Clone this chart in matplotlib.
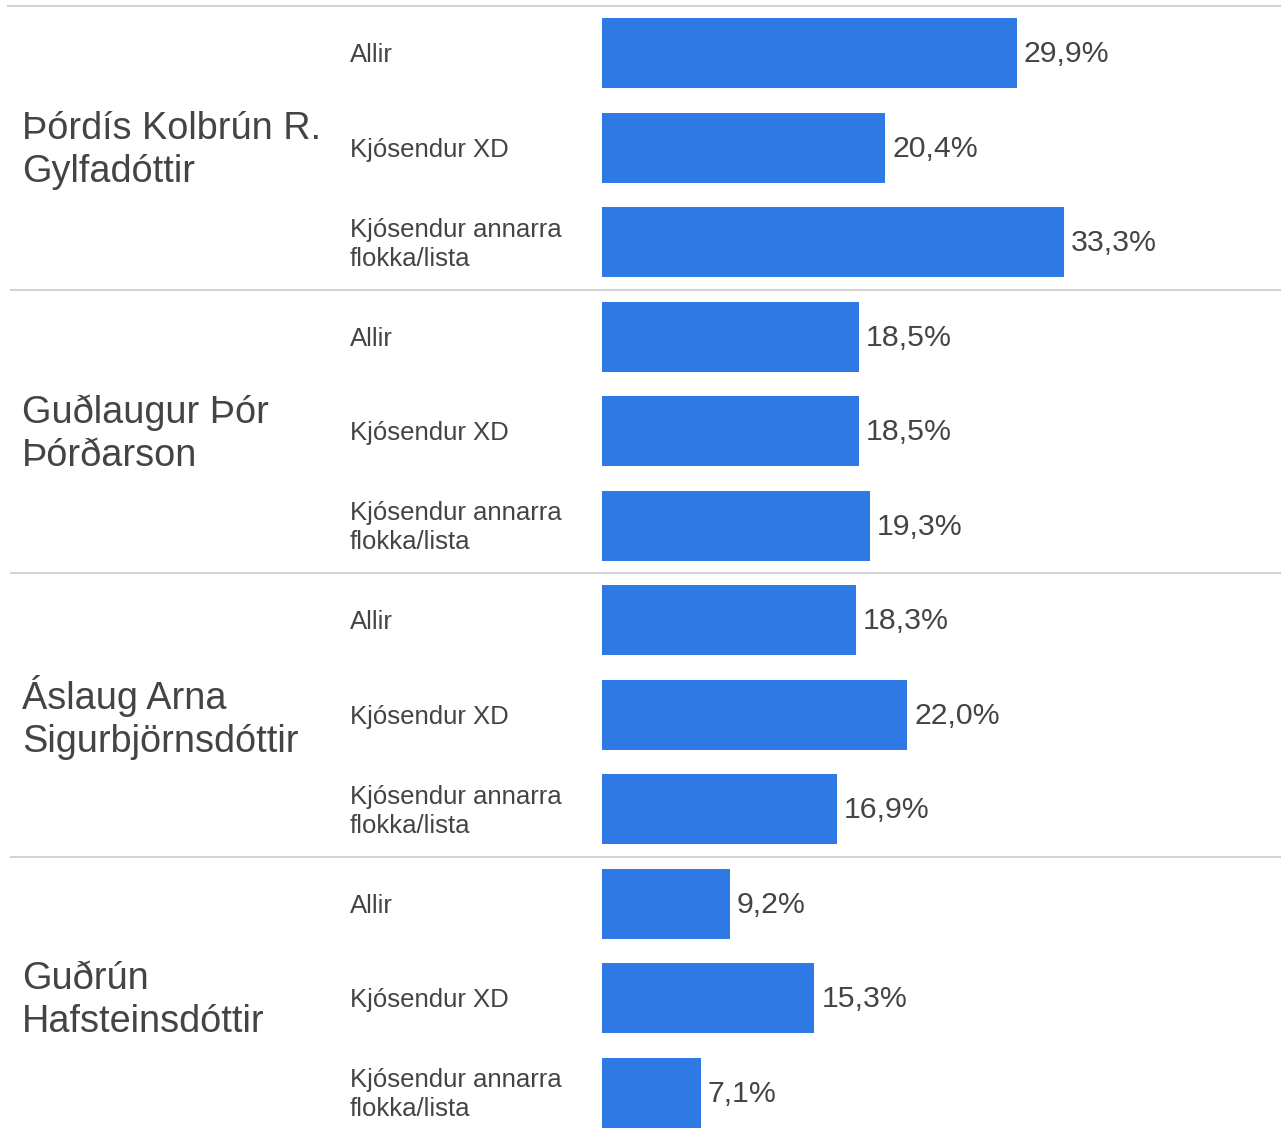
import matplotlib
matplotlib.use("Agg")
import matplotlib.pyplot as plt
from matplotlib.transforms import offset_copy

plt.rcParams['font.family'] = ['Liberation Sans', 'DejaVu Sans']

candidates = ["Þórdís Kolbrún R.\nGylfadóttir", "Guðlaugur Þór\nÞórðarson",
              "Áslaug Arna\nSigurbjörnsdóttir", "Guðrún\nHafsteinsdóttir"]
subgroups = ["Allir", "Kjósendur XD", "Kjósendur annarra\nflokka/lista"]
values = [
    [29.9, 20.4, 33.3],
    [18.5, 18.5, 19.3],
    [18.3, 22.0, 16.9],
    [9.2, 15.3, 7.1],
]

W, H = 1281, 1136
fig = plt.figure(figsize=(W / 100, H / 100), dpi=100)

slot_px = 94.5
top_px = 6
y_top = -0.5 - top_px / slot_px
y_bot = -0.5 + (H - top_px) / slot_px

bar_color = "#2f79e4"
text_color = "#444444"
line_color = "#d3d3d3"

bg = fig.add_axes([0, 0, 1, 1])
bg.set_xlim(0, W)
bg.set_ylim(y_bot, y_top)
bg.axis("off")

left_px = 602
ax = fig.add_axes([left_px / W, 0, 1 - left_px / W, 1])
px_per_pct = 13.88
ax.set_xlim(0, (W - left_px) / px_per_pct)
ax.set_ylim(y_bot, y_top)
ax.axis("off")

bg_tr = offset_copy(bg.transData, fig=fig, x=0, y=-2, units="dots")
ax_tr = offset_copy(ax.transData, fig=fig, x=0, y=-1, units="dots")
name_tr = offset_copy(bg.transData, fig=fig, x=0, y=-2.5, units="dots")

n_sub = len(subgroups)
for g, (cand, vals) in enumerate(zip(candidates, values)):
    base = g * n_sub
    ys = [base + i for i in range(n_sub)]
    ax.barh(ys, vals, height=70 / slot_px, color=bar_color, left=0)
    for y, v in zip(ys, vals):
        ax.text(v + 0.5, y, f"{v:.1f}".replace(".", ",") + "%", va="center", ha="left",
                fontsize=21.8, color=text_color, transform=ax_tr)
    for y, s in zip(ys, subgroups):
        bg.text(350, y, s, va="center", ha="left", fontsize=18.5, color=text_color,
                linespacing=1.25, transform=bg_tr)
    bg.text(22, base + 1, cand, va="center", ha="left", fontsize=27.3, color=text_color,
            linespacing=1.25, transform=name_tr)
    sep_y = base - 0.5
    x0 = 7 if g == 0 else 10
    bg.plot([x0, W], [sep_y, sep_y], color=line_color, lw=1.5, solid_capstyle="butt")

fig.savefig("out.png", dpi=100, facecolor="white")
